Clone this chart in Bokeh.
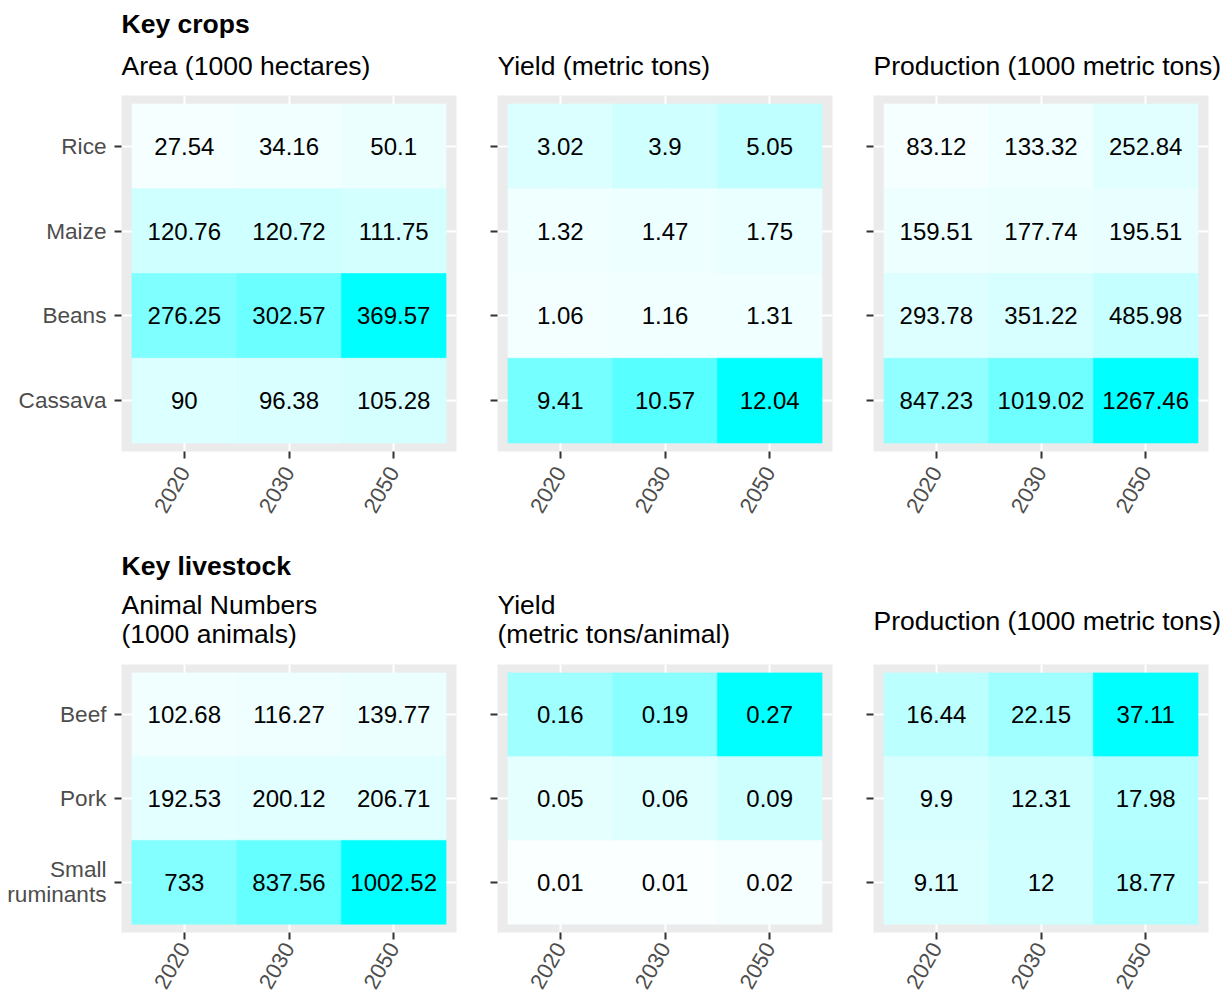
import math
from bokeh.plotting import figure
from bokeh.models import ColumnDataSource, FactorRange, Title, CustomJSTickFormatter
from bokeh.layouts import row, column
from bokeh.embed import file_html
from bokeh.resources import INLINE
from bokeh.core.properties import value

# ---------------- data ----------------
years = ["2020", "2030", "2050"]

crops = ["Rice", "Maize", "Beans", "Cassava"]
crop_area = [[27.54, 34.16, 50.1],
             [120.76, 120.72, 111.75],
             [276.25, 302.57, 369.57],
             [90, 96.38, 105.28]]
crop_yield = [[3.02, 3.9, 5.05],
              [1.32, 1.47, 1.75],
              [1.06, 1.16, 1.31],
              [9.41, 10.57, 12.04]]
crop_prod = [[83.12, 133.32, 252.84],
             [159.51, 177.74, 195.51],
             [293.78, 351.22, 485.98],
             [847.23, 1019.02, 1267.46]]

livestock = ["Beef", "Pork", "Small ruminants"]
ls_numbers = [[102.68, 116.27, 139.77],
              [192.53, 200.12, 206.71],
              [733, 837.56, 1002.52]]
ls_yield = [[0.16, 0.19, 0.27],
            [0.05, 0.06, 0.09],
            [0.01, 0.01, 0.02]]
ls_prod = [[16.44, 22.15, 37.11],
           [9.9, 12.31, 17.98],
           [9.11, 12, 18.77]]

FONT = "Liberation Sans"

# ---------------- colour helpers (white -> cyan, interpolated in Lab) ----------------
def _lin(c):
    c = c / 255.0
    return c / 12.92 if c <= 0.04045 else ((c + 0.055) / 1.055) ** 2.4

def _to_lab(rgb):
    r, g, b = (_lin(v) for v in rgb)
    X = (0.4124 * r + 0.3576 * g + 0.1805 * b) / 0.95047
    Y = (0.2126 * r + 0.7152 * g + 0.0722 * b) / 1.0
    Z = (0.0193 * r + 0.1192 * g + 0.9505 * b) / 1.08883
    f = lambda t: t ** (1 / 3) if t > 0.008856 else 7.787 * t + 16 / 116
    fx, fy, fz = f(X), f(Y), f(Z)
    return (116 * fy - 16, 500 * (fx - fy), 200 * (fy - fz))

def _from_lab(lab):
    L, a, b = lab
    fy = (L + 16) / 116
    fx = fy + a / 500
    fz = fy - b / 200
    finv = lambda t: t ** 3 if t ** 3 > 0.008856 else (t - 16 / 116) / 7.787
    X, Y, Z = finv(fx) * 0.95047, finv(fy), finv(fz) * 1.08883
    r = 3.2406 * X - 1.5372 * Y - 0.4986 * Z
    g = -0.9689 * X + 1.8758 * Y + 0.0415 * Z
    bb = 0.0557 * X - 0.2040 * Y + 1.0570 * Z
    def enc(c):
        c = min(max(c, 0.0), 1.0)
        c = 12.92 * c if c <= 0.0031308 else 1.055 * c ** (1 / 2.4) - 0.055
        return int(round(min(max(c, 0), 1) * 255))
    return "#%02x%02x%02x" % (enc(r), enc(g), enc(bb))

LOW = _to_lab((255, 255, 255))
HIGH = _to_lab((0, 255, 255))

def blend(t):
    return _from_lab(tuple(l + (h - l) * t for l, h in zip(LOW, HIGH)))

def fmt(v):
    return ("%.2f" % v).rstrip("0").rstrip(".")

BLANK = CustomJSTickFormatter(code="return '';")
WRAP = CustomJSTickFormatter(code="return tick == 'Small ruminants' ? 'Small\\nruminants' : tick;")

# ---------------- panel builder ----------------
def panel(values, cats, titles, width, height, mb_left, mb_right, mb_top, mb_bottom,
          yformatter=None, xstandoff=4):
    xs, ys, labels, colors = [], [], [], []
    vmax = max(max(r) for r in values)
    for i, c in enumerate(cats):
        for j, yr in enumerate(years):
            v = values[i][j]
            xs.append(yr)
            ys.append(c)
            labels.append(fmt(v))
            colors.append(blend(v / vmax))
    src = ColumnDataSource(dict(x=xs, y=ys, label=labels, color=colors))

    p = figure(
        x_range=FactorRange(factors=years, range_padding=0.1, range_padding_units="absolute"),
        y_range=FactorRange(factors=list(reversed(cats)), range_padding=0.1, range_padding_units="absolute"),
        width=width, height=height, title=None,
        min_border_left=mb_left, min_border_right=mb_right,
        min_border_top=mb_top, min_border_bottom=mb_bottom,
        output_backend="svg", toolbar_location=None,
    )
    p.rect(x="x", y="y", width=1, height=1, source=src,
           fill_color="color", line_color="color", line_width=0.6)
    p.text(x="x", y="y", text="label", source=src,
           text_align="center", text_baseline="middle",
           text_font=value(FONT), text_font_size="24px", text_color="black")

    p.background_fill_color = "#EBEBEB"
    p.border_fill_color = "white"
    p.outline_line_color = None
    p.grid.grid_line_color = "white"
    p.grid.grid_line_width = 2

    for ax in (p.xaxis, p.yaxis):
        ax.axis_line_color = None
        ax.major_tick_line_color = "#333333"
        ax.major_tick_line_width = 2
        ax.major_tick_in = 0
        ax.major_tick_out = 7
        ax.minor_tick_line_color = None
        ax.major_label_text_color = "#4D4D4D"
        ax.major_label_text_font = FONT
    p.xaxis.major_label_text_font_size = "22px"
    p.xaxis.major_label_orientation = math.pi / 3
    p.xaxis.major_label_standoff = xstandoff
    p.yaxis.major_label_text_font_size = "22.6px"
    p.yaxis.major_label_text_line_height = 1.0
    p.yaxis.major_label_standoff = 8
    if yformatter is not None:
        p.yaxis.formatter = yformatter

    for text, style, standoff in titles:
        p.add_layout(Title(text=text, text_font=FONT, text_font_size="26.5px",
                           text_font_style=style, text_color="black",
                           text_line_height=0.97,
                           align="left", standoff=standoff), "above")
    return p

H1, H2 = 530, 469
T1, B1 = 95, 79
T2, B2 = 134, 67

a1 = panel(crop_area, crops,
           [("Area (1000 hectares)", "normal", 30),
            ("Key crops", "bold", -10)],
           476, H1, 121, 20, T1, B1, xstandoff=10)
b1 = panel(crop_yield, crops,
           [("Yield (metric tons)", "normal", 30)],
           376, H1, 21, 20, T1, B1, yformatter=BLANK, xstandoff=10)
c1 = panel(crop_prod, crops,
           [("Production (1000 metric tons)", "normal", 30)],
           376, H1, 21, 20, T1, B1, yformatter=BLANK, xstandoff=10)

a2 = panel(ls_numbers, livestock,
           [("Animal Numbers\n(1000 animals)", "normal", 30),
            ("Key livestock", "bold", -14)],
           476, H2, 121, 20, T2, B2, yformatter=WRAP, xstandoff=5)
b2 = panel(ls_yield, livestock,
           [("Yield\n(metric tons/animal)", "normal", 30)],
           376, H2, 21, 20, T2, B2, yformatter=BLANK, xstandoff=5)
c2 = panel(ls_prod, livestock,
           [("Production (1000 metric tons)", "normal", 57)],
           376, H2, 21, 20, T2, B2, yformatter=BLANK, xstandoff=5)

layout = column(row(a1, b1, c1, spacing=0), row(a2, b2, c2, spacing=0), spacing=0)

with open("out.html", "w") as f:
    f.write(file_html(layout, INLINE))
